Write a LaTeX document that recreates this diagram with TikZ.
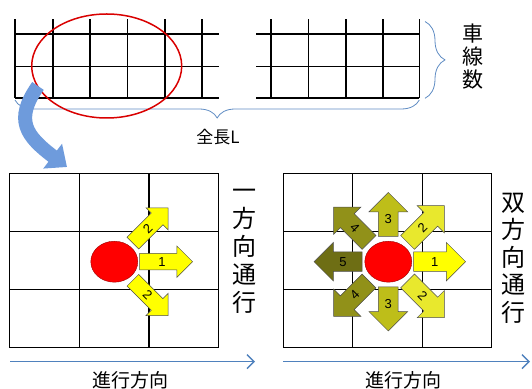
\documentclass[tikz,border=0pt]{standalone}
\usepackage{fontspec}
\setsansfont{Liberation Sans}
\newfontfamily\jp{Noto Sans CJK JP}
\usetikzlibrary{shapes.geometric, shapes.arrows, arrows.meta, positioning, calc, decorations.pathreplacing}

\definecolor{braceblue}{RGB}{95,140,195}
\definecolor{flowblue}{RGB}{79,129,189}
\definecolor{bendblue}{RGB}{110,155,220}
\definecolor{lvA}{RGB}{255,255,0}
\definecolor{lvB}{RGB}{232,232,45}
\definecolor{lvC}{RGB}{190,190,25}
\definecolor{lvD}{RGB}{145,145,25}
\definecolor{lvE}{RGB}{110,110,20}

\begin{document}
\begin{tikzpicture}[x=1pt, y=1pt,
        road/.style={line width=1.6pt},
        cell/.style={line width=1.1pt},
        brc/.style={braceblue, line width=0.8pt, decorate, decoration={brace, amplitude=#1}},
        car/.style={draw=red!60!black, fill=red, ellipse, inner sep=0pt, minimum width=47, minimum height=41},
        move/.style={single arrow, draw=black!70, line width=0.5pt, inner xsep=0.5pt, inner ysep=5pt,
            text height=9pt, text depth=0pt, minimum width=0pt, single arrow head extend=9.5pt,
            minimum height=#1, anchor=tail, font=\sffamily\fontsize{13}{13}\selectfont},
        move/.default=50,
        small/.style={inner ysep=3.5pt, single arrow head extend=7.5pt},
        upright/.style={inner xsep=6pt, inner ysep=0.5pt},
        head/.style={flowblue, line width=1.4pt, -{Straight Barb[length=7pt, width=14pt]}},
        label/.style={font=\jp\fontsize{#1}{#1}\selectfont, inner sep=0pt}
    ]
        \useasboundingbox (0,0) rectangle (532,388);

        % road, two pieces
        \foreach \x in {15,52.7,90,127.3,164.7,202}
            \draw[road] (\x,368.7) -- (\x,289.7);
        \foreach \y in {353.7,321.3,289.7}
            \draw[road] (15,\y) -- (219,\y);
        \foreach \x in {270.7,308.3,345.7,382.7,419.3}
            \draw[road] (\x,368.7) -- (\x,289.7);
        \foreach \y in {353.7,321.3,289.7}
            \draw[road] (256,\y) -- (419.3,\y);

        \draw[brc=20] (425,366.5) -- (425,289.7);
        \draw[brc=18] (419.3,288) -- (15,288);
        \node[label=21, align=center, font=\jp\fontsize{21}{23}\selectfont] (lanes) at (473,331) {車\\線\\数};
        \node[label=17] (length) at (218,251) {全長L};

        \node[draw=red!85!black, line width=1.5pt, ellipse, minimum width=150, minimum height=104] (zone) at (106.7,322) {};

        \coordinate (bendstart) at (38,302);
        \coordinate (bendtip) at (67,221);
        \draw[bendblue, line width=14pt, -{Triangle[length=18pt, width=30pt]}]
            (bendstart) .. controls (14,268) and (26,252) .. (bendtip);

        % one-way
        \foreach \x in {9.3,79.3,149,218.3}
            \draw[cell] (\x,40.3) -- (\x,214.7);
        \foreach \y in {40.3,98.7,156.3,214.7}
            \draw[cell] (9.3,\y) -- (218.3,\y);
        \node[car] (dot1) at (114.3,126.3) {};
        \node[move=53, small, fill=lvA] (one1) at ($(dot1)+(0:25)$) {1};
        \node[move=50, small, fill=lvA, rotate=45] (one2u) at ($(dot1)+(45:26)$) {2};
        \node[move=50, small, fill=lvA, rotate=-45] (one2d) at ($(dot1)+(-45:26)$) {2};
        \node[label=24, align=center, font=\jp\fontsize{24}{28}\selectfont] (oneway) at (244,137) {一\\方\\向\\通\\行};

        % two-way
        \foreach \x in {283.3,352.7,422.7,491.7}
            \draw[cell] (\x,40.3) -- (\x,214.7);
        \foreach \y in {40.3,98.7,156.3,214.7}
            \draw[cell] (283.3,\y) -- (491.7,\y);
        \node[car] (dot2) at (388.3,126.3) {};
        \node[move=52, fill=lvA] (two1) at ($(dot2)+(0:25)$) {1};
        \node[move=52, fill=lvB, rotate=45] (two2u) at ($(dot2)+(45:27)$) {2};
        \node[move=52, fill=lvB, rotate=-45] (two2d) at ($(dot2)+(-45:27)$) {2};
        \node[move=44, upright, fill=lvC, shape border rotate=90] (two3u) at ($(dot2)+(90:25)$) {3};
        \node[move=44, upright, fill=lvC, shape border rotate=270] (two3d) at ($(dot2)+(270:25)$) {3};
        \node[move=50, fill=lvD, rotate=-45, shape border rotate=180] (two4u) at ($(dot2)+(135:27)$) {4};
        \node[move=50, fill=lvD, rotate=45, shape border rotate=180] (two4d) at ($(dot2)+(225:27)$) {4};
        \node[move=48, fill=lvE, shape border rotate=180] (two5) at ($(dot2)+(180:26)$) {5};
        \node[label=24, align=center, font=\jp\fontsize{24}{27.5}\selectfont] (twoway) at (513,130) {双\\方\\向\\通\\行};

        % direction of travel
        \coordinate (dirL0) at (10,26.3);
        \coordinate (dirL1) at (255,26.3);
        \coordinate (dirR0) at (283,26.3);
        \coordinate (dirR1) at (530,26.3);
        \draw[head] (dirL0) -- (dirL1);
        \draw[head] (dirR0) -- (dirR1);
        \node[label=19] (dirtextL) at (130,8) {進行方向};
        \node[label=19] (dirtextR) at (403,8) {進行方向};
    \end{tikzpicture}
\end{document}
